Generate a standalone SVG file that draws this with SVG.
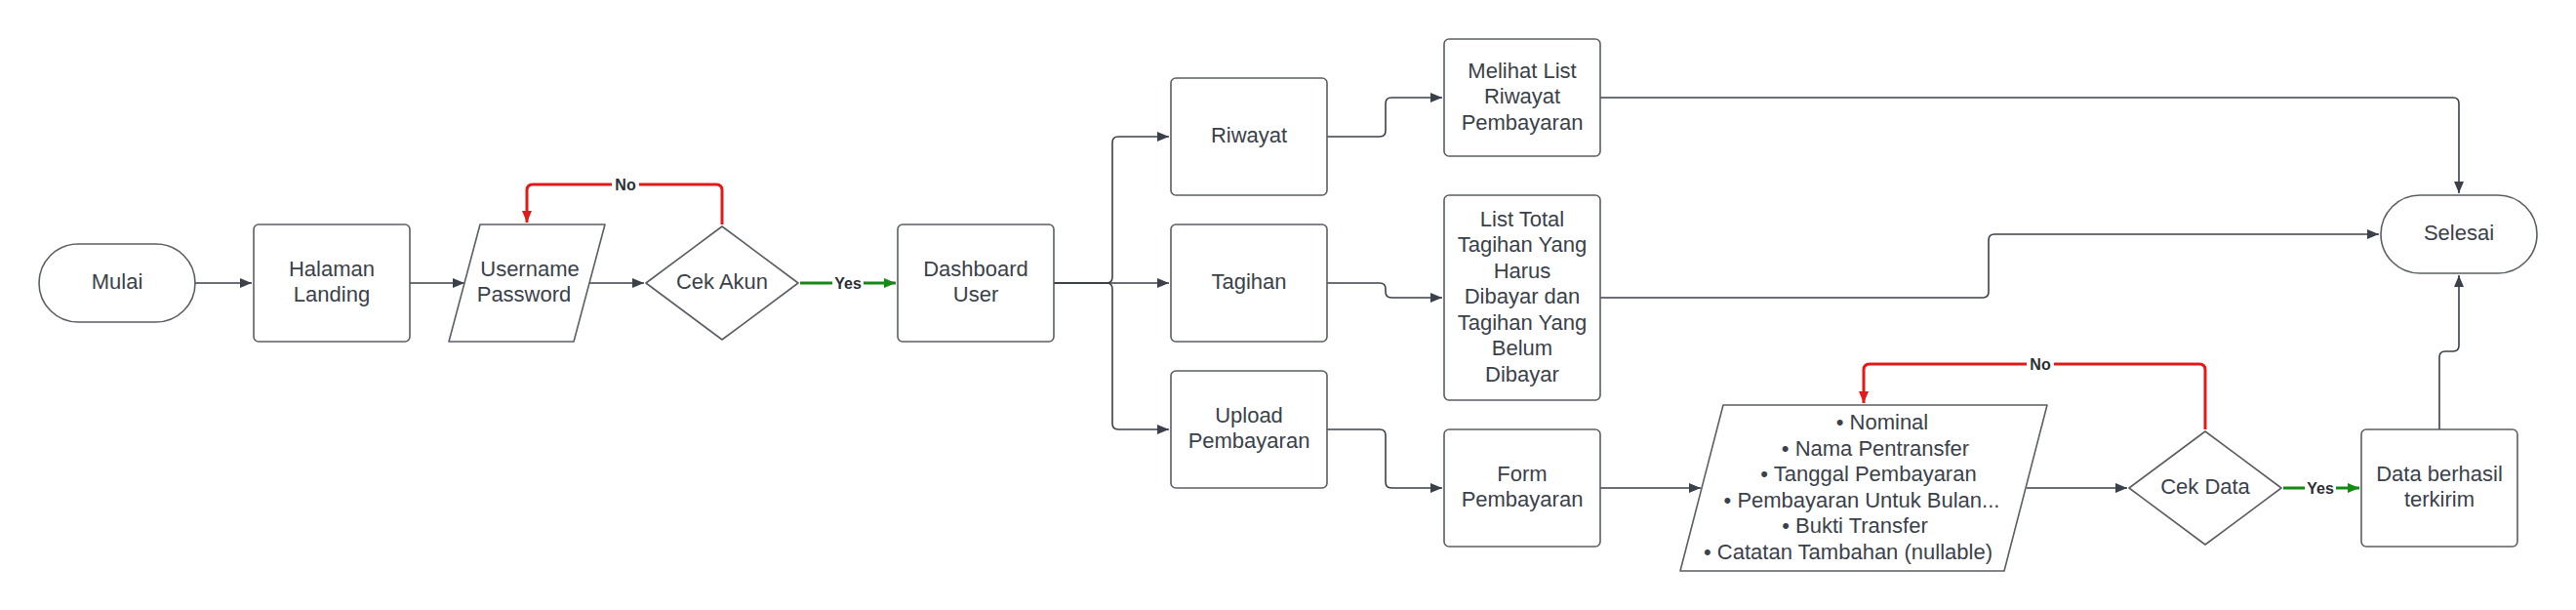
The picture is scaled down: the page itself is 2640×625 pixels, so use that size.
<svg xmlns="http://www.w3.org/2000/svg" width="2640" height="625" viewBox="0 0 2640 625">
<style>
.shape{fill:#ffffff;stroke:#5a5f66;stroke-width:1.6;stroke-linejoin:round}
.t{font-family:"Liberation Sans",Arial,sans-serif;font-size:22px;fill:#3a414a;text-anchor:middle}
.lbl{font-family:"Liberation Sans",Arial,sans-serif;font-size:16px;font-weight:bold;fill:#2b2f35;text-anchor:middle}
.c{fill:none;stroke:#3a414a;stroke-width:1.6}
.red{fill:none;stroke:#e01b1b;stroke-width:3}
.green{fill:none;stroke:#138a13;stroke-width:3}
</style>
<defs>
<marker id="ah" viewBox="0 0 12 10" refX="12" refY="5" markerWidth="12" markerHeight="10" markerUnits="userSpaceOnUse" orient="auto"><path d="M0,0 L12,5 L0,10 z" fill="#3a414a"/></marker>
<marker id="ahr" viewBox="0 0 12 10" refX="12" refY="5" markerWidth="12" markerHeight="10" markerUnits="userSpaceOnUse" orient="auto"><path d="M0,0 L12,5 L0,10 z" fill="#e01b1b"/></marker>
<marker id="ahg" viewBox="0 0 12 10" refX="12" refY="5" markerWidth="12" markerHeight="10" markerUnits="userSpaceOnUse" orient="auto"><path d="M0,0 L12,5 L0,10 z" fill="#138a13"/></marker>
</defs>
<rect width="2640" height="625" fill="#ffffff"/>

<g id="connectors">
<path class="c" d="M200 290 H258" marker-end="url(#ah)"/>
<path class="c" d="M420 290 H476" marker-end="url(#ah)"/>
<path class="c" d="M604 290 H660" marker-end="url(#ah)"/>
<path class="red" d="M740 230 V195 Q740 189 734 189 H546 Q540 189 540 195 V228" marker-end="url(#ahr)"/>
<path class="green" d="M820 290 H918" marker-end="url(#ahg)"/>
<path class="c" d="M1080 290 H1134 Q1140 290 1140 284 V146 Q1140 140 1146 140 H1198" marker-end="url(#ah)"/>
<path class="c" d="M1080 290 H1198" marker-end="url(#ah)"/>
<path class="c" d="M1080 290 H1134 Q1140 290 1140 296 V434 Q1140 440 1146 440 H1198" marker-end="url(#ah)"/>
<path class="c" d="M1360 140 H1414 Q1420 140 1420 134 V106 Q1420 100 1426 100 H1478" marker-end="url(#ah)"/>
<path class="c" d="M1360 290 H1414 Q1420 290 1420 296 V299 Q1420 305 1426 305 H1478" marker-end="url(#ah)"/>
<path class="c" d="M1360 440 H1414 Q1420 440 1420 446 V494 Q1420 500 1426 500 H1478" marker-end="url(#ah)"/>
<path class="c" d="M1640 100 H2514 Q2520 100 2520 106 V198" marker-end="url(#ah)"/>
<path class="c" d="M1640 305 H2032 Q2038 305 2038 299 V246 Q2038 240 2044 240 H2438" marker-end="url(#ah)"/>
<path class="c" d="M1640 500 H1743" marker-end="url(#ah)"/>
<path class="c" d="M2077 500 H2180" marker-end="url(#ah)"/>
<path class="red" d="M2260 440 V379 Q2260 373 2254 373 H1916 Q1910 373 1910 379 V413" marker-end="url(#ahr)"/>
<path class="green" d="M2340 500 H2418" marker-end="url(#ahg)"/>
<path class="c" d="M2500 440 V366 Q2500 360 2506 360 H2514 Q2520 360 2520 354 V282" marker-end="url(#ah)"/>
<rect x="627" y="179" width="28" height="20" fill="#ffffff"/>
<text class="lbl" x="641" y="195">No</text>
<rect x="853" y="280" width="32" height="20" fill="#ffffff"/>
<text class="lbl" x="869" y="296">Yes</text>
<rect x="2077" y="363" width="28" height="20" fill="#ffffff"/>
<text class="lbl" x="2091" y="379">No</text>
<rect x="2362" y="490" width="32" height="20" fill="#ffffff"/>
<text class="lbl" x="2378" y="506">Yes</text>
</g>

<g id="mulai">
<rect class="shape" x="40" y="250" width="160" height="80" rx="40" ry="40"/>
<text class="t" x="120" y="296">Mulai</text>
</g>
<g id="halaman-landing">
<rect class="shape" x="260" y="230" width="160" height="120" rx="5"/>
<text class="t" x="340" y="283">Halaman</text>
<text class="t" x="340" y="309">Landing</text>
</g>
<g id="username-password">
<polygon class="shape" points="492,230 620,230 588,350 460,350"/>
<text class="t" x="543" y="283">Username</text>
<text class="t" x="537" y="309">Password</text>
</g>
<g id="cek-akun">
<polygon class="shape" points="740,232 818,290 740,348 662,290"/>
<text class="t" x="740" y="296">Cek Akun</text>
</g>
<g id="dashboard-user">
<rect class="shape" x="920" y="230" width="160" height="120" rx="5"/>
<text class="t" x="1000" y="283">Dashboard</text>
<text class="t" x="1000" y="309">User</text>
</g>
<g id="riwayat">
<rect class="shape" x="1200" y="80" width="160" height="120" rx="5"/>
<text class="t" x="1280" y="146">Riwayat</text>
</g>
<g id="tagihan">
<rect class="shape" x="1200" y="230" width="160" height="120" rx="5"/>
<text class="t" x="1280" y="296">Tagihan</text>
</g>
<g id="upload-pembayaran">
<rect class="shape" x="1200" y="380" width="160" height="120" rx="5"/>
<text class="t" x="1280" y="433">Upload</text>
<text class="t" x="1280" y="459">Pembayaran</text>
</g>
<g id="melihat-list">
<rect class="shape" x="1480" y="40" width="160" height="120" rx="5"/>
<text class="t" x="1560" y="79.5">Melihat List</text>
<text class="t" x="1560" y="106">Riwayat</text>
<text class="t" x="1560" y="132.5">Pembayaran</text>
</g>
<g id="list-total">
<rect class="shape" x="1480" y="200" width="160" height="210" rx="5"/>
<text class="t" x="1560" y="231.5">List Total</text>
<text class="t" x="1560" y="258">Tagihan Yang</text>
<text class="t" x="1560" y="284.5">Harus</text>
<text class="t" x="1560" y="311">Dibayar dan</text>
<text class="t" x="1560" y="337.5">Tagihan Yang</text>
<text class="t" x="1560" y="364">Belum</text>
<text class="t" x="1560" y="390.5">Dibayar</text>
</g>
<g id="form-pembayaran">
<rect class="shape" x="1480" y="440" width="160" height="120" rx="5"/>
<text class="t" x="1560" y="493">Form</text>
<text class="t" x="1560" y="519">Pembayaran</text>
</g>
<g id="data-input">
<polygon class="shape" points="1766,415 2098,415 2054,585 1722,585"/>
<text class="t" x="1929" y="440">• Nominal</text>
<text class="t" x="1922" y="466.5">• Nama Pentransfer</text>
<text class="t" x="1915" y="493">• Tanggal Pembayaran</text>
<text class="t" x="1908" y="519.5">• Pembayaran Untuk Bulan...</text>
<text class="t" x="1901" y="546">• Bukti Transfer</text>
<text class="t" x="1894" y="572.5">• Catatan Tambahan (nullable)</text>
</g>
<g id="cek-data">
<polygon class="shape" points="2260,442 2338,500 2260,558 2182,500"/>
<text class="t" x="2260" y="506">Cek Data</text>
</g>
<g id="data-berhasil">
<rect class="shape" x="2420" y="440" width="160" height="120" rx="5"/>
<text class="t" x="2500" y="493">Data berhasil</text>
<text class="t" x="2500" y="519">terkirim</text>
</g>
<g id="selesai">
<rect class="shape" x="2440" y="200" width="160" height="80" rx="40" ry="40"/>
<text class="t" x="2520" y="246">Selesai</text>
</g>
</svg>
